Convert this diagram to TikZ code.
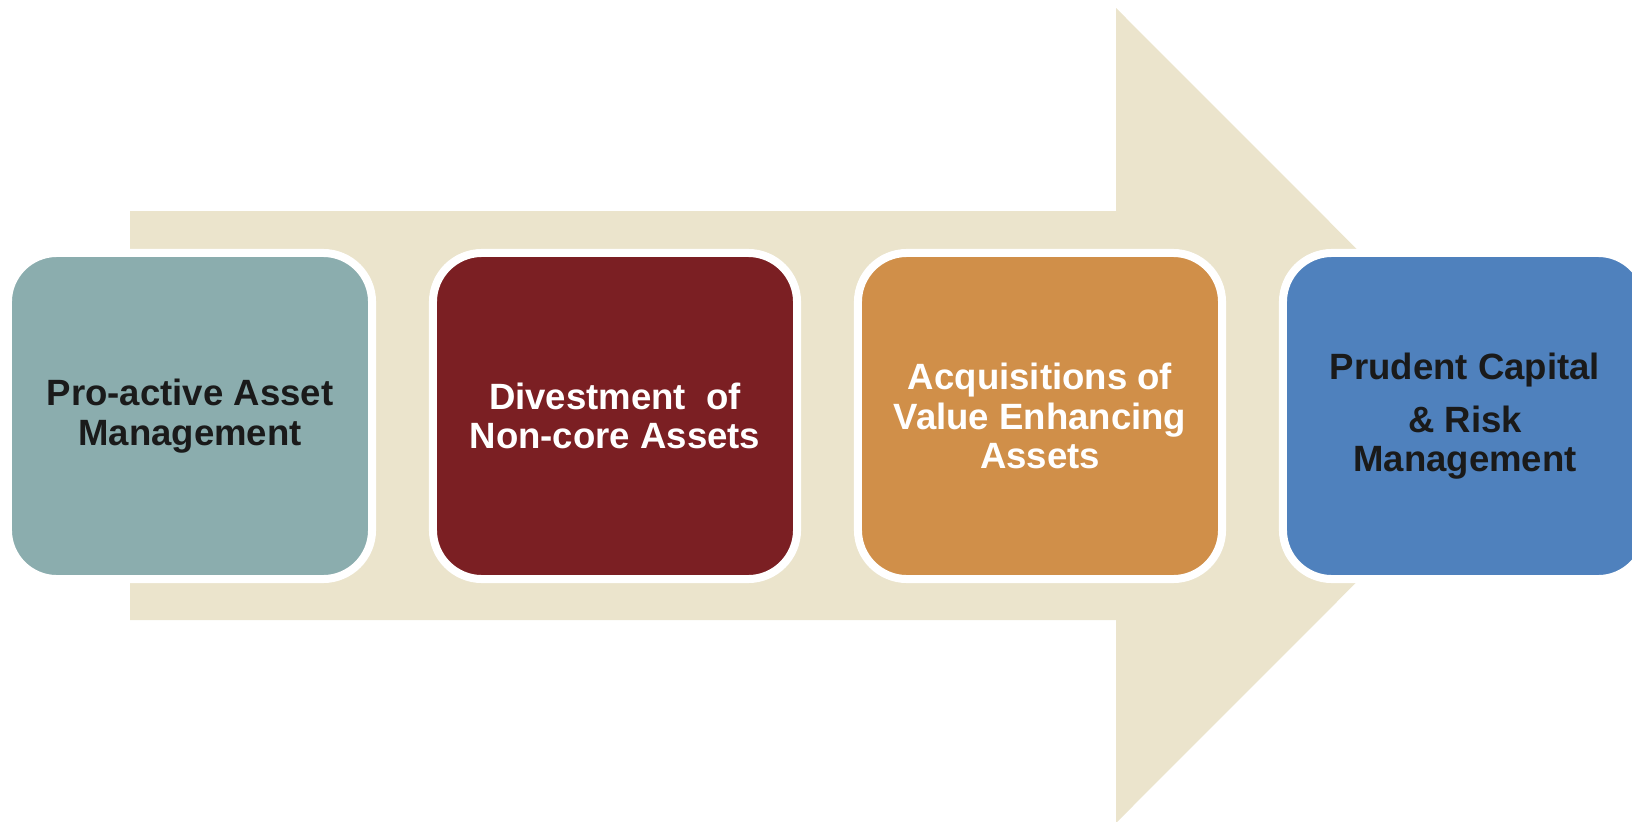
\documentclass[tikz,border=0pt]{standalone}
\usepackage{fontspec}
\setmainfont{Liberation Sans}
\definecolor{arrowbg}{HTML}{EBE4CC}
\definecolor{boxteal}{HTML}{8BADAE}
\definecolor{boxmaroon}{HTML}{7B1F23}
\definecolor{boxochre}{HTML}{D08F49}
\definecolor{boxblue}{HTML}{4F81BD}
\definecolor{txtdark}{HTML}{1A1A1A}
\begin{document}
\begin{tikzpicture}[x=0.025cm,y=-0.025cm,
  box/.style={draw=white, line width=0.2cm, rounded corners=1.225cm,
    minimum width=9.1cm, minimum height=8.15cm, align=center,
    font=\fontsize{26}{28}\selectfont\bfseries}]
\clip (0,0) rectangle (1632,822);
%% big arrow behind
\fill[arrowbg] (130,211) -- (1116,211) -- (1116,8) -- (1523,415.5)
   -- (1116,823) -- (1116,620) -- (130,620) -- cycle;
%%
\node[box, fill=boxteal, text=txtdark] (proactive) at (190,416) {Pro-active Asset\\Management};
       \node[box, fill=boxmaroon, text=white] (divest) at (615,416) {Divestment\ \ of\\Non-core Assets};
       \node[box, fill=boxochre, text=white] (acquire) at (1040,416) {Acquisitions of\\Value Enhancing\\Assets};
       %%
       \node[box, fill=boxblue, text=txtdark] (prudent) at (1465,416) {Prudent Capital\\[0.35cm]\& Risk\\Management};
\end{tikzpicture}
\end{document}
